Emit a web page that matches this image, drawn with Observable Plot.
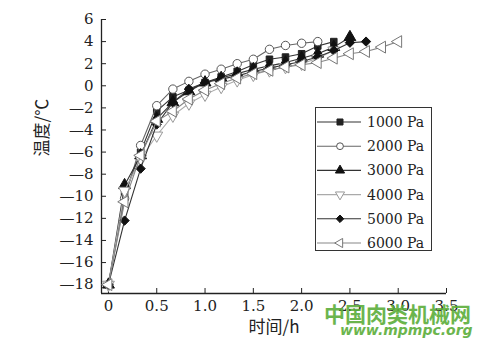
<!DOCTYPE html>
<html><head><meta charset="utf-8">
<script src="https://cdn.jsdelivr.net/npm/d3@7"></script>
<script src="https://cdn.jsdelivr.net/npm/@observablehq/plot@0.6"></script>
<style>
body{margin:0;background:#fff;}
#wrap{position:relative;width:500px;height:351px;overflow:hidden;font-family:"DejaVu Serif",serif;}
#legend{position:absolute;left:315px;top:107px;}
#wm1{position:absolute;left:324px;top:298px;font-family:"Noto Sans CJK SC",sans-serif;font-weight:700;font-size:21px;color:#5cae3a;opacity:.9;white-space:nowrap;}
#wm2{position:absolute;left:340px;top:322px;font-family:"DejaVu Sans",sans-serif;font-weight:700;font-style:italic;font-size:14px;color:#5cae3a;opacity:.9;white-space:nowrap;}
</style></head><body><div id="wrap"><div id="legend"></div><div id="wm1">中国肉类机械网</div><div id="wm2">www.mpmpc.org</div></div>
<script>
const times = [0, 0.167, 0.333, 0.5, 0.667, 0.833, 1.0, 1.167, 1.333, 1.5, 1.667, 1.833, 2.0, 2.167, 2.333, 2.5, 2.667, 2.833, 3.0];
const seriesNames = ["1000 Pa", "2000 Pa", "3000 Pa", "4000 Pa", "5000 Pa", "6000 Pa"];
const temp1000 = [-18, -9.8, -6.0, -2.3, -1.0, -0.4, 0.3, 0.8, 1.3, 1.9, 2.4, 2.6, 2.9, 3.6, 4.0];
const temp2000 = [-18, -10.2, -5.4, -1.8, -0.3, 0.4, 1.05, 1.5, 2.0, 2.4, 3.3, 3.65, 3.85, 4.0];
const temp3000 = [-18, -9.0, -6.3, -3.0, -1.5, -0.5, 0.3, 0.7, 1.1, 1.5, 1.8, 2.1, 2.5, 2.9, 3.5, 4.4];
const temp4000 = [-18, -9.5, -6.6, -4.5, -2.7, -1.6, -0.8, -0.1, 0.5, 1.0, 1.4, 1.7, 2.0, 2.5, 3.2];
const temp5000 = [-18, -12.2, -7.5, -3.5, -1.5, -0.3, 0.3, 0.6, 0.9, 1.3, 1.6, 1.9, 2.2, 2.6, 3.2, 3.9, 4.0];
const temp6000 = [-18, -10.5, -6.3, -3.2, -2.3, -1.2, -0.4, 0.2, 0.7, 1.1, 1.4, 1.7, 1.9, 2.1, 2.5, 2.9, 3.1, 3.5, 4.0];
const xTicks = [0, 0.5, 1.0, 1.5, 2.0, 2.5, 3.0, 3.5];
const yTicks = [-18, -16, -14, -12, -10, -8, -6, -4, -2, 0, 2, 4, 6];
const xLabel = "时间/h";
const yLabel = "温度/℃";

const seriesValues = [temp1000, temp2000, temp3000, temp4000, temp5000, temp6000];

const s3 = Math.sqrt(3);
const symDown = {draw(ctx, size){ const y = -Math.sqrt(size/(s3*3)); ctx.moveTo(0, -y*2); ctx.lineTo(-s3*y, y); ctx.lineTo(s3*y, y); ctx.closePath(); }};
const symLeft = {draw(ctx, size){ const y = -Math.sqrt(size/(s3*3)); ctx.moveTo(y*2, 0); ctx.lineTo(-y, -s3*y); ctx.lineTo(-y, s3*y); ctx.closePath(); }};

const styles = [
  {symbol: "square", d3sym: d3.symbolSquare, fill: "#222", stroke: "#222", line: "#333", r: 3.7},
  {symbol: "circle", d3sym: d3.symbolCircle, fill: "white", stroke: "#555", line: "#666", r: 4.2},
  {symbol: "triangle", d3sym: d3.symbolTriangle, fill: "#111", stroke: "#111", line: "#333", r: 4.4},
  {symbol: symDown, d3sym: symDown, fill: "white", stroke: "#999", line: "#aaa", r: 4.4},
  {symbol: "diamond2", d3sym: d3.symbolDiamond2, fill: "#111", stroke: "#111", line: "#333", r: 4.2},
  {symbol: symLeft, d3sym: symLeft, fill: "white", stroke: "#777", line: "#888", r: 4.4}
];

const xDomain = [-0.072, 3.5];
const yDomain = [-18.8, 6];
const serifFont = "DejaVu Serif";
const cjkFont = '"Noto Sans CJK SC", "DejaVu Serif", sans-serif';

const marks = [];
seriesNames.forEach((name, i) => {
  const st = styles[i];
  const rows = seriesValues[i].map((v, j) => ({t: times[j], temp: v, series: name}));
  marks.push(Plot.line(rows, {x: "t", y: "temp", stroke: st.line, strokeWidth: 1.1}));
  marks.push(Plot.dot(rows, {x: "t", y: "temp", symbol: () => st.symbol, fill: st.fill, stroke: st.stroke, strokeWidth: 1, r: st.r}));
});

const fmtY = d => d < 0 ? "—" + (-d) : String(d);
const fmtX = d => d === 0 ? "0" : d.toFixed(1);

const chart = Plot.plot({
  width: 500, height: 351,
  marginLeft: 101, marginRight: 54, marginTop: 19, marginBottom: 58,
  style: {fontFamily: serifFont, fontSize: "15px", color: "#222", background: "white"},
  x: {domain: xDomain},
  y: {domain: yDomain},
  symbol: {type: "identity"},
  marks: [
    Plot.axisX({ticks: xTicks, tickSize: -5, tickPadding: 12, tickFormat: fmtX, label: null, fontSize: 15}),
    Plot.axisY({ticks: yTicks, tickSize: -5, tickPadding: 13, tickFormat: fmtY, label: null, fontSize: 15}),
    Plot.ruleX([xDomain[0]], {stroke: "#222", strokeWidth: 1.3}),
    Plot.ruleY([yDomain[0]], {stroke: "#222", strokeWidth: 1.3}),
    ...marks,
    Plot.text([yLabel], {text: d => d, frameAnchor: "left", dx: -59, rotate: -90, fontSize: 17, fontFamily: cjkFont, fill: "#222"}),
    Plot.text([xLabel], {text: d => d, frameAnchor: "bottom", dy: 39, fontSize: 17, fontFamily: cjkFont, fill: "#222"})
  ]
});
document.getElementById("wrap").prepend(chart);

// legend (HTML overlay)
const lw = 117, rowH = 24.2, lh = 144;
const lsvg = d3.select("#legend").append("svg").attr("width", lw).attr("height", lh);
lsvg.append("rect").attr("x", 0.5).attr("y", 0.5).attr("width", lw - 1).attr("height", lh - 1)
  .attr("fill", "white").attr("stroke", "#333");
seriesNames.forEach((name, i) => {
  const st = styles[i];
  const cy = 15 + i * rowH;
  const g = lsvg.append("g");
  g.append("line").attr("x1", 2).attr("x2", 46).attr("y1", cy).attr("y2", cy).attr("stroke", st.line).attr("stroke-width", 1.1);
  g.append("path").attr("transform", `translate(25,${cy})`)
    .attr("d", d3.symbol(st.d3sym, Math.PI * 3.4 * 3.4)())
    .attr("fill", st.fill).attr("stroke", st.stroke);
  g.append("text").attr("x", 52).attr("y", cy).attr("dy", "0.35em").attr("fill", "#222")
    .attr("font-family", serifFont).attr("font-size", 14).text(name);
});
</script>
</body></html>
